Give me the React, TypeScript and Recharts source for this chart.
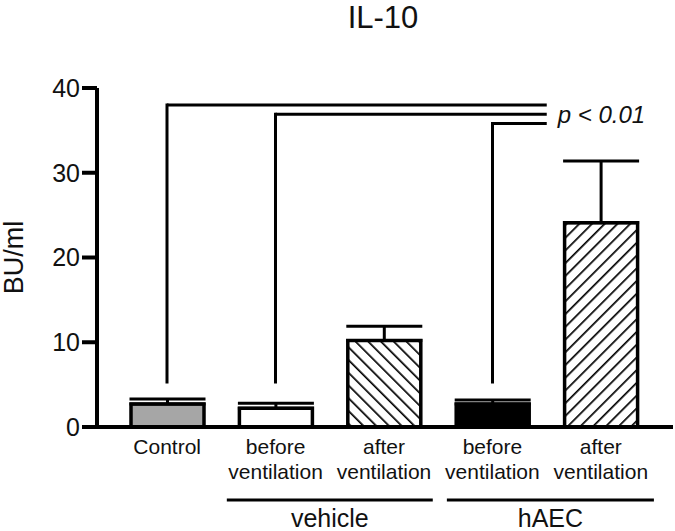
import React from 'react';
import {
  ComposedChart,
  Bar,
  Cell,
  ErrorBar,
  XAxis,
  YAxis,
  ReferenceLine,
} from 'recharts';

// ---- data ----
const categories = ['Control', 'vehicle-before', 'vehicle-after', 'hAEC-before', 'hAEC-after'];
const tickLabels: string[][] = [
  ['Control'],
  ['before', 'ventilation'],
  ['after', 'ventilation'],
  ['before', 'ventilation'],
  ['after', 'ventilation'],
];
const means = [2.7, 2.2, 10.2, 2.7, 24.1];
const sems = [0.6, 0.6, 1.7, 0.5, 7.3];
const fills = ['#a6a6a6', '#ffffff', 'url(#hatchBack)', '#000000', 'url(#hatchFwd)'];
const yTicks = [0, 10, 20, 30, 40];

// significance brackets (category index positions, value levels)
const bracketStarts = [0, 1, 3];
const bracketLevels = [38, 36.9, 35.8];
const bracketEnd = 3.5;
const bracketFoot = 5.3;
const pLabel = 'p < 0.01';

// group underlines (in category-index units)
const groupNames = ['vehicle', 'hAEC'];
const groupFirstIndex = [1, 3];
const groupStarts = [0.55, 2.58];
const groupEnds = [2.45, 4.49];

const data = categories.map((c, i) => ({ name: c, pos: i, value: means[i], err: [0, sems[i]] }));

const FONT = '"Liberation Sans", Arial, sans-serif';

const CategoryTick = (props: any) => {
  const { x, y, payload } = props;
  const idx = categories.indexOf(payload.value);
  const lines = tickLabels[idx] || [];
  const band = (payload.offset || 0) * 2;
  const g = groupFirstIndex.indexOf(idx);
  let group: React.ReactNode = null;
  if (g >= 0 && band > 0) {
    const x1 = x + (groupStarts[g] - idx) * band;
    const x2 = x + (groupEnds[g] - idx) * band;
    group = (
      <g>
        <line x1={x1} x2={x2} y1={y + 73} y2={y + 73} stroke="#000" strokeWidth={3} />
        <text x={(x1 + x2) / 2} y={y + 100} textAnchor="middle" fontSize={25} fontFamily={FONT} fill="#111">
          {groupNames[g]}
        </text>
      </g>
    );
  }
  return (
    <g>
      <text x={x} y={y} textAnchor="middle" fontSize={21} fontFamily={FONT} fill="#111">
        {lines.map((l, i) => (
          <tspan key={i} x={x} dy={i === 0 ? 27 : 25}>
            {l}
          </tspan>
        ))}
      </text>
      {group}
    </g>
  );
};

export default function App() {
  return (
    <div style={{ position: 'absolute', left: 0, top: 0, width: 675, height: 531, background: '#fff' }}>
      <div
        style={{
          position: 'absolute',
          left: 283,
          top: 0,
          width: 200,
          textAlign: 'center',
          fontFamily: FONT,
          fontSize: 31,
          lineHeight: '36px',
          color: '#111',
        }}
      >
        IL-10
      </div>
      <ComposedChart
        width={675}
        height={531}
        data={data}
        margin={{ top: 88, right: 2, bottom: 0, left: 0 }}
        barSize={73}
      >
        <defs>
          <pattern id="hatchBack" width="9" height="9" patternUnits="userSpaceOnUse" patternTransform="rotate(-45)">
            <rect width="9" height="9" fill="#fff" />
            <line x1="0" y1="0" x2="0" y2="9" stroke="#000" strokeWidth="3.4" />
          </pattern>
          <pattern id="hatchFwd" width="9" height="9" patternUnits="userSpaceOnUse" patternTransform="rotate(45)">
            <rect width="9" height="9" fill="#fff" />
            <line x1="0" y1="0" x2="0" y2="9" stroke="#000" strokeWidth="3.4" />
          </pattern>
        </defs>
        <XAxis
          dataKey="name"
          type="category"
          height={104}
          padding={{ left: 16, right: 18 }}
          axisLine={{ stroke: '#000', strokeWidth: 4 }}
          tickLine={false}
          tickSize={0}
          tickMargin={0}
          tick={<CategoryTick />}
          interval={0}
        />
        <XAxis
          xAxisId="pos"
          dataKey="pos"
          type="number"
          domain={[0, 4]}
          allowDataOverflow
          padding={{ left: 70, right: 72 }}
          hide
        />
        <YAxis
          type="number"
          domain={[0, 40]}
          ticks={yTicks}
          width={97}
          axisLine={{ stroke: '#000', strokeWidth: 4 }}
          tickLine={{ stroke: '#000', strokeWidth: 4 }}
          tickSize={15}
          tickMargin={2}
          tick={{ fontSize: 25, fill: '#111', fontFamily: FONT }}
          label={{
            value: 'BU/ml',
            angle: -90,
            position: 'center',
            dx: -35,
            fontSize: 27,
            fill: '#111',
            fontFamily: FONT,
          }}
        />
        <Bar dataKey="value" stroke="#000" strokeWidth={3.5} isAnimationActive={false}>
          {data.map((d, i) => (
            <Cell key={i} fill={fills[i]} />
          ))}
          <ErrorBar dataKey="err" width={38} stroke="#000" strokeWidth={3} direction="y" />
        </Bar>
        {bracketStarts.map((s, i) => (
          <ReferenceLine
            key={'h' + i}
            xAxisId="pos"
            segment={[
              { x: s, y: bracketLevels[i] },
              { x: bracketEnd, y: bracketLevels[i] },
            ]}
            stroke="#000"
            strokeWidth={3}
            ifOverflow="visible"
            label={
              i === 1
                ? {
                    value: pLabel,
                    position: 'right',
                    offset: 11,
                    fontSize: 24,
                    fontStyle: 'italic',
                    fill: '#111',
                    fontFamily: FONT,
                  }
                : undefined
            }
          />
        ))}
        {bracketStarts.map((s, i) => (
          <ReferenceLine
            key={'v' + i}
            xAxisId="pos"
            segment={[
              { x: s, y: bracketLevels[i] },
              { x: s, y: bracketFoot },
            ]}
            stroke="#000"
            strokeWidth={3}
            strokeLinecap="square"
            ifOverflow="visible"
          />
        ))}
      </ComposedChart>
    </div>
  );
}
